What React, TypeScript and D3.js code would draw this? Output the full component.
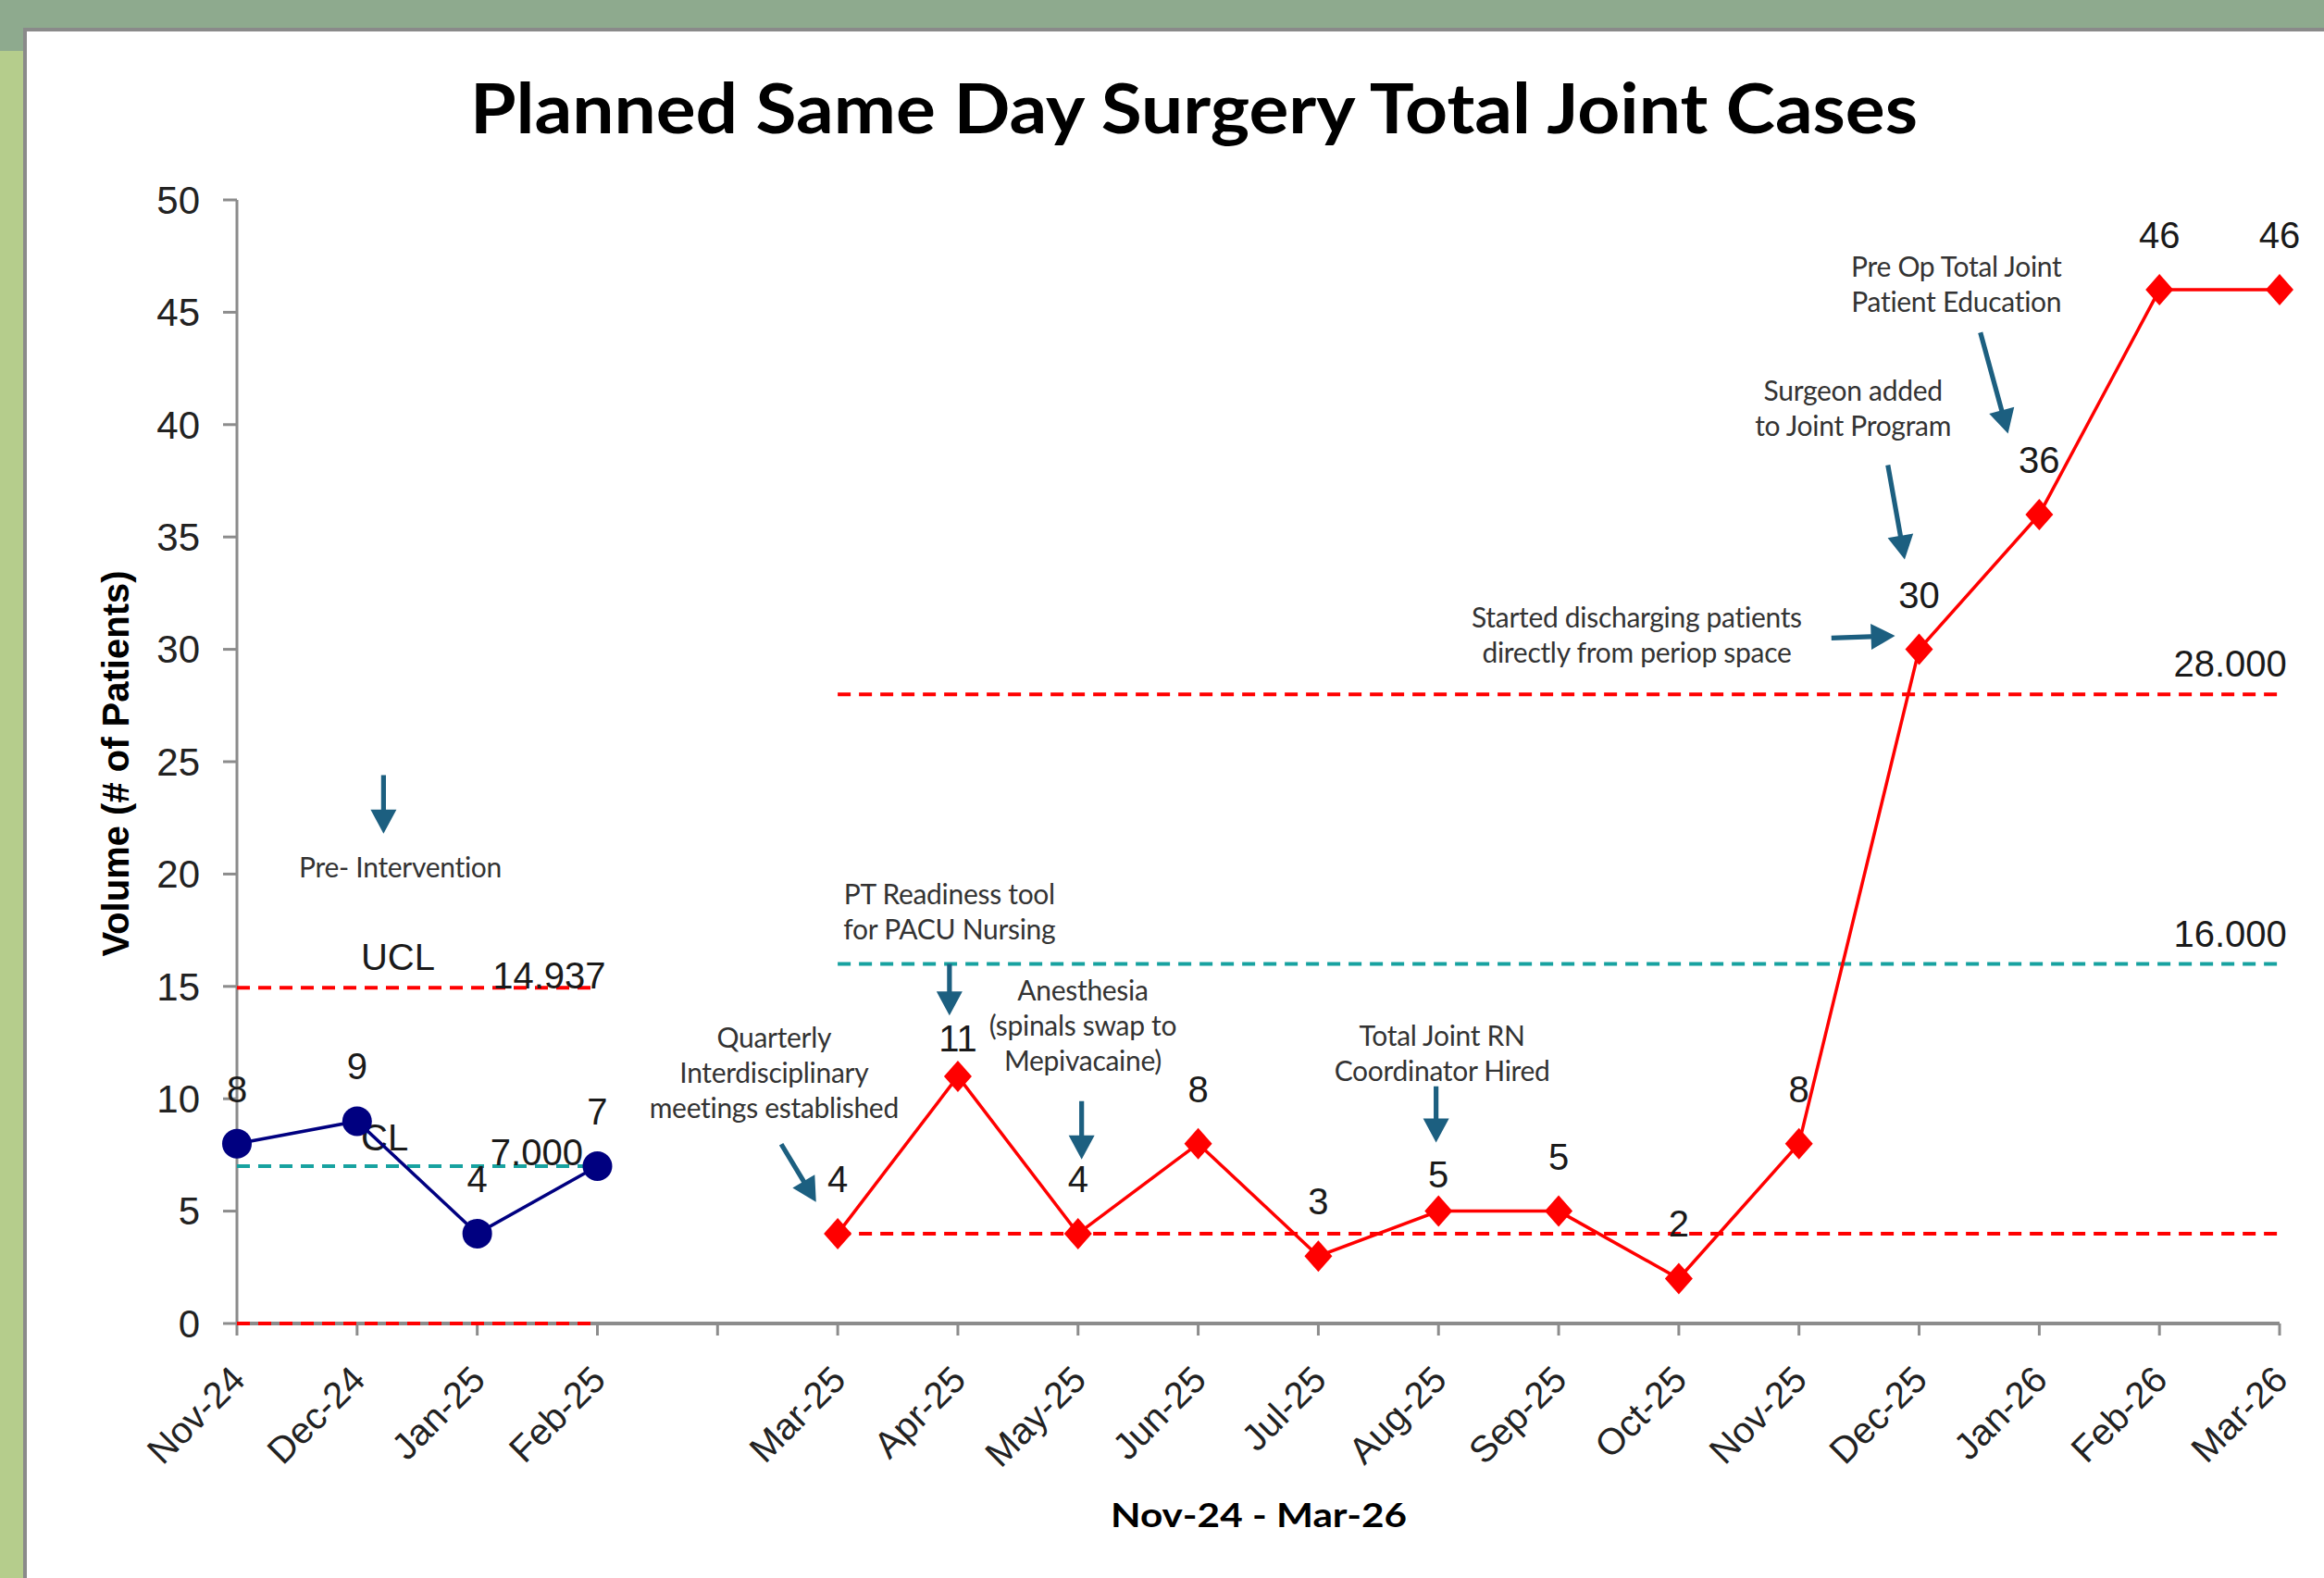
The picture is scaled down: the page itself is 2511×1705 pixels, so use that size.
import React from 'react';
import * as d3 from 'd3';

const W = 2511;
const H = 1705;

// category axis (index 4 is the empty gap between phases)
const months = [
  'Nov-24', 'Dec-24', 'Jan-25', 'Feb-25', '',
  'Mar-25', 'Apr-25', 'May-25', 'Jun-25', 'Jul-25', 'Aug-25', 'Sep-25',
  'Oct-25', 'Nov-25', 'Dec-25', 'Jan-26', 'Feb-26', 'Mar-26',
];

const preMonths = ['Nov-24', 'Dec-24', 'Jan-25', 'Feb-25'];
const preValues = [8, 9, 4, 7];

const postMonths = [
  'Mar-25', 'Apr-25', 'May-25', 'Jun-25', 'Jul-25', 'Aug-25', 'Sep-25',
  'Oct-25', 'Nov-25', 'Dec-25', 'Jan-26', 'Feb-26', 'Mar-26',
];
const postValues = [4, 11, 4, 8, 3, 5, 5, 2, 8, 30, 36, 46, 46];

// control limits
const preUcl = 14.937;
const preCl = 7;
const preLcl = 0;
const postUcl = 28;
const postCl = 16;
const postLcl = 4;

const yTicks = [0, 5, 10, 15, 20, 25, 30, 35, 40, 45, 50];

// annotation text: [category index, value] of first line centre, arrow from -> to
const annotations = [
  { lines: ['Pre- Intervention'], at: [1.36, 20.3], arrow: [[1.22, 24.4], [1.22, 21.8]] },
  { lines: ['PT Readiness tool', 'for PACU Nursing'], at: [5.93, 19.1], arrow: [[5.93, 16.0], [5.93, 13.7]] },
  { lines: ['Anesthesia', '(spinals swap to', 'Mepivacaine)'], at: [7.04, 14.8], arrow: [[7.03, 9.9], [7.03, 7.3]] },
  { lines: ['Quarterly', 'Interdisciplinary', 'meetings established'], at: [4.47, 12.7], arrow: [[4.53, 7.98], [4.82, 5.41]] },
  { lines: ['Total Joint RN', 'Coordinator Hired'], at: [10.03, 12.8], arrow: [[9.98, 10.55], [9.98, 8.05]] },
  { lines: ['Started discharging patients', 'directly from periop space'], at: [11.65, 31.4], arrow: [[13.27, 30.5], [13.8, 30.6]] },
  { lines: ['Surgeon added', 'to Joint Program'], at: [13.45, 41.5], arrow: [[13.74, 38.2], [13.88, 34.0]] },
  { lines: ['Pre Op Total Joint', 'Patient Education'], at: [14.31, 47.0], arrow: [[14.51, 44.1], [14.74, 39.6]] },
];

const fmt3 = d3.format('.3f');
const limitLabels = [
  { text: 'UCL', at: [1.34, 16.3], anchor: 'middle' },
  { text: fmt3(preUcl), at: [3.07, 15.5], anchor: 'end' },
  { text: 'CL', at: [1.23, 8.28], anchor: 'middle' },
  { text: fmt3(preCl), at: [2.88, 7.6], anchor: 'end' },
  { text: fmt3(postUcl), at: [17.06, 29.35], anchor: 'end' },
  { text: fmt3(postCl), at: [17.06, 17.35], anchor: 'end' },
];

// a couple of labels in the original sit closer to their marker
const labelGap: { [k: string]: number } = { 'Apr-25': 41, 'Aug-25': 40 };

const RED = '#ff0000';
const TEAL = '#17a2a0';
const NAVY = '#000080';
const ARROW = '#1c5f80';
const AXIS = '#8c8c8c';
const SANS = '"Liberation Sans", Arial, sans-serif';
const CAL = 'Lato, "Open Sans", sans-serif';

const x = d3.scaleLinear().domain([0, months.length - 1]).range([256, 2463]);
const y = d3.scaleLinear().domain([0, 50]).range([1430, 216]);
const xm = (m: string) => x(months.indexOf(m));

const line = d3
  .line<[number, number]>()
  .x((d) => d[0])
  .y((d) => d[1]);

const arrowShape = (x1: number, y1: number, x2: number, y2: number) => {
  const dx = x2 - x1;
  const dy = y2 - y1;
  const len = Math.sqrt(dx * dx + dy * dy);
  const ux = dx / len;
  const uy = dy / len;
  const px = -uy;
  const py = ux;
  const head = 26;
  const hw = 14;
  const sw = 2.6;
  const bx = x2 - ux * head;
  const by = y2 - uy * head;
  const pts = [
    [x1 + px * sw, y1 + py * sw],
    [bx + px * sw, by + py * sw],
    [bx + px * hw, by + py * hw],
    [x2, y2],
    [bx - px * hw, by - py * hw],
    [bx - px * sw, by - py * sw],
    [x1 - px * sw, y1 - py * sw],
  ];
  return pts.map((p) => p.join(',')).join(' ');
};

const diamond = (cx: number, cy: number) =>
  `M${cx},${cy - 17}L${cx + 15},${cy}L${cx},${cy + 17}L${cx - 15},${cy}Z`;

const App = () => {
  const axisY = y(0);
  const prePts = preMonths.map((m, i) => [xm(m), y(preValues[i])] as [number, number]);
  const postPts = postMonths.map((m, i) => [xm(m), y(postValues[i])] as [number, number]);

  const hLine = (from: string, to: string, v: number, color: string, key: string) => (
    <line
      key={key}
      x1={xm(from)}
      x2={xm(to)}
      y1={y(v)}
      y2={y(v)}
      stroke={color}
      strokeWidth={4}
      strokeDasharray="14 9"
    />
  );

  return (
    <div style={{ position: 'absolute', left: 0, top: 0 }}>
      <svg width={W} height={H} style={{ display: 'block' }}>
        <rect x={0} y={0} width={W} height={H} fill="#8eaa8e" />
        <rect x={0} y={55} width={26} height={H} fill="#b5cd8c" />
        <rect x={27} y={32} width={W} height={H} fill="#fff" stroke="#8a8a8a" strokeWidth={4} />

        <text
          x={1290}
          y={144}
          textAnchor="middle"
          fontFamily={CAL}
          fontWeight={700}
          fontSize={75}
          textLength={1564}
          lengthAdjust="spacingAndGlyphs"
          fill="#000"
        >
          Planned Same Day Surgery Total Joint Cases
        </text>

        {/* y axis */}
        <line x1={256} x2={256} y1={y(50)} y2={axisY} stroke={AXIS} strokeWidth={3} />
        {yTicks.map((t) => (
          <g key={`yt-${t}`}>
            <line x1={241} x2={256} y1={y(t)} y2={y(t)} stroke={AXIS} strokeWidth={3} />
            <text
              x={216}
              y={y(t)}
              dy="0.35em"
              textAnchor="end"
              fontFamily={SANS}
              fontSize={42}
              fill="#222"
            >
              {t}
            </text>
          </g>
        ))}
        <text
          transform={`translate(125, 825) rotate(-90)`}
          dy="0.35em"
          textAnchor="middle"
          fontFamily={SANS}
          fontWeight={700}
          fontSize={40}
          fill="#000"
        >
          Volume (# of Patients)
        </text>

        {/* x axis */}
        <line x1={x(0)} x2={x(months.length - 1)} y1={axisY} y2={axisY} stroke={AXIS} strokeWidth={4} />
        {months.map((m, i) => (
          <g key={`xt-${i}`}>
            <line x1={x(i)} x2={x(i)} y1={axisY} y2={axisY + 13} stroke={AXIS} strokeWidth={3} />
            {m && (
              <text
                transform={`translate(${x(i) + 1}, ${axisY + 53}) rotate(-45)`}
                dy="0.35em"
                textAnchor="end"
                fontFamily={SANS}
                fontSize={40}
                fill="#222"
              >
                {m}
              </text>
            )}
          </g>
        ))}
        <text
          x={1360}
          y={1650}
          textAnchor="middle"
          fontFamily={CAL}
          fontWeight={700}
          fontSize={36}
          textLength={320}
          lengthAdjust="spacingAndGlyphs"
          fill="#000"
        >
          Nov-24 - Mar-26
        </text>

        {/* control limits */}
        {hLine('Nov-24', 'Feb-25', preUcl, RED, 'pu')}
        {hLine('Nov-24', 'Feb-25', preCl, TEAL, 'pc')}
        {hLine('Nov-24', 'Feb-25', preLcl, RED, 'pl')}
        {hLine('Mar-25', 'Mar-26', postUcl, RED, 'qu')}
        {hLine('Mar-25', 'Mar-26', postCl, TEAL, 'qc')}
        {hLine('Mar-25', 'Mar-26', postLcl, RED, 'ql')}

        {limitLabels.map((l) => (
          <text
            key={l.text}
            x={x(l.at[0])}
            y={y(l.at[1])}
            dy="0.35em"
            textAnchor={l.anchor as any}
            fontFamily={SANS}
            fontSize={40}
            fill="#1a1a1a"
          >
            {l.text}
          </text>
        ))}

        {/* series */}
        <path d={line(prePts) || ''} fill="none" stroke={NAVY} strokeWidth={3.5} />
        {prePts.map((p, i) => (
          <circle key={`pc-${i}`} cx={p[0]} cy={p[1]} r={16} fill={NAVY} />
        ))}
        <path d={line(postPts) || ''} fill="none" stroke={RED} strokeWidth={3.5} />
        {postPts.map((p, i) => (
          <path key={`qd-${i}`} d={diamond(p[0], p[1])} fill={RED} />
        ))}

        {prePts.map((p, i) => (
          <text
            key={`pl-${i}`}
            x={p[0]}
            y={p[1] - 59}
            dy="0.35em"
            textAnchor="middle"
            fontFamily={SANS}
            fontSize={40}
            fill="#1a1a1a"
          >
            {preValues[i]}
          </text>
        ))}
        {postPts.map((p, i) => (
          <text
            key={`ql-${i}`}
            x={p[0]}
            y={p[1] - (labelGap[postMonths[i]] ?? 59)}
            dy="0.35em"
            textAnchor="middle"
            fontFamily={SANS}
            fontSize={40}
            fill="#1a1a1a"
          >
            {postValues[i]}
          </text>
        ))}

        {/* annotations */}
        {annotations.map((a, k) => (
          <g key={`an-${k}`}>
            {a.lines.map((ln, j) => (
              <text
                key={j}
                x={x(a.at[0])}
                y={y(a.at[1]) + j * 38}
                dy="0.35em"
                textAnchor="middle"
                fontFamily={CAL}
                fontSize={30}
                letterSpacing={-0.3}
                fill="#333"
              >
                {ln}
              </text>
            ))}
            <polygon
              points={arrowShape(x(a.arrow[0][0]), y(a.arrow[0][1]), x(a.arrow[1][0]), y(a.arrow[1][1]))}
              fill={ARROW}
            />
          </g>
        ))}
      </svg>
    </div>
  );
};

export default App;
